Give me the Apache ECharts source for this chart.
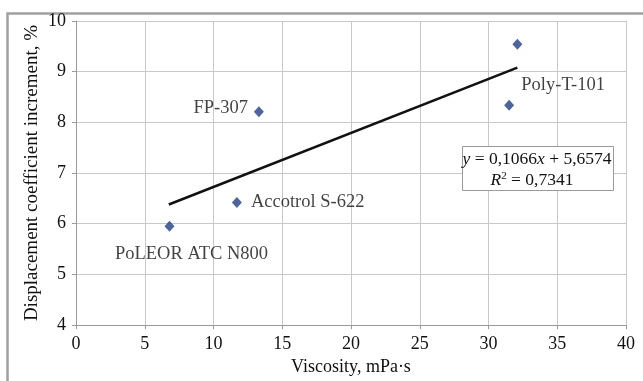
<!DOCTYPE html>
<html>
<head>
<meta charset="utf-8">
<script src="https://cdn.jsdelivr.net/npm/echarts@6/dist/echarts.min.js"></script>
<style>
  html, body { margin: 0; padding: 0; background: #fff; }
  #main { width: 643px; height: 381px; }
</style>
</head>
<body>
<div id="main"></div>
<script>
// point data
const names = ['PoLEOR ATC N800', 'Accotrol S-622', 'FP-307', 'Poly-T-101', '']
const viscosity = [6.8, 11.7, 13.3, 31.5, 32.1]
const increment = [5.95, 6.42, 8.21, 8.34, 9.54]
// trend line ends
const trendX = [6.75, 32.1]
const trendY = [6.38, 9.08]
const xTicks = [0, 5, 10, 15, 20, 25, 30, 35, 40]
const yTicks = [4, 5, 6, 7, 8, 9, 10]

const font = '"Liberation Serif", "Times New Roman", serif'
const ink = '#111'

// where each label sits relative to its point
const labelSpots = [
  { position: 'bottom', distance: 10, offset: [22, 3] },
  { position: 'right', distance: 9 },
  { position: 'left', distance: 6, offset: [0, -4] },
  { position: 'top', distance: 5, offset: [54, 0] },
  { show: false }
]

const chart = echarts.init(document.getElementById('main'))

const option = {
  animation: false,
  textStyle: { fontFamily: font },
  grid: { left: 76, right: 17, top: 21, bottom: 54 },
  xAxis: {
    type: 'value',
    min: xTicks[0],
    max: xTicks[xTicks.length - 1],
    interval: 5,
    name: 'Viscosity, mPa·s',
    nameLocation: 'middle',
    nameGap: 30,
    nameTextStyle: { fontFamily: font, fontSize: 18, color: ink },
    axisLine: { lineStyle: { color: '#9a9a9a' } },
    axisTick: { show: true, length: 4, lineStyle: { color: '#9a9a9a' } },
    axisLabel: { fontFamily: font, fontSize: 18, color: ink, margin: 10 },
    splitLine: { show: true, lineStyle: { color: '#c8c8c8' } }
  },
  yAxis: {
    type: 'value',
    min: yTicks[0],
    max: yTicks[yTicks.length - 1],
    interval: 1,
    name: 'Displacement coefficient increment, %',
    nameLocation: 'middle',
    nameGap: 34,
    nameMoveOverlap: false,
    nameTextStyle: { fontFamily: font, fontSize: 19, color: ink },
    axisLine: { show: true, lineStyle: { color: '#9a9a9a' } },
    axisTick: { show: true, length: 4, lineStyle: { color: '#9a9a9a' } },
    axisLabel: { fontFamily: font, fontSize: 18, color: ink, margin: 10, padding: [5, 0, 0, 0] },
    splitLine: { show: true, lineStyle: { color: '#c8c8c8' } }
  },
  series: [
    {
      type: 'line',
      data: trendX.map((x, i) => [x, trendY[i]]),
      showSymbol: false,
      symbol: 'none',
      lineStyle: { color: '#111', width: 2.5 },
      z: 2
    },
    {
      type: 'scatter',
      symbol: 'diamond',
      symbolSize: [10, 11],
      itemStyle: { color: '#203f85' },
      z: 3,
      data: viscosity.map((x, i) => ({
        value: [x, increment[i]],
        label: Object.assign({
          show: true,
          formatter: names[i],
          fontFamily: font,
          fontSize: 18.5,
          color: ink
        }, labelSpots[i])
      }))
    }
  ],
  graphic: [
    {
      type: 'rect',
      left: 5,
      top: 11,
      shape: { width: 645, height: 380 },
      style: { fill: 'none', stroke: '#a0a0a0', lineWidth: 2.5 },
      silent: true,
      z: -1
    },
    {
      type: 'rect',
      left: 462,
      top: 146,
      shape: { width: 151, height: 44 },
      style: { fill: '#fff', stroke: '#9a9a9a', lineWidth: 1 },
      z: 10
    },
    {
      type: 'text',
      x: 537,
      y: 159,
      z: 11,
      style: {
        text: '{i|y} = 0,1066{i|x} + 5,6574',
        align: 'center',
        verticalAlign: 'middle',
        fontFamily: font,
        fontSize: 17.5,
        fill: ink,
        rich: { i: { fontStyle: 'italic', fontFamily: font, fontSize: 17.5 } }
      }
    },
    {
      type: 'text',
      x: 532,
      y: 180,
      z: 11,
      style: {
        text: '{i|R}{s|2} = 0,7341',
        align: 'center',
        verticalAlign: 'middle',
        fontFamily: font,
        fontSize: 17.5,
        fill: ink,
        rich: {
          i: { fontStyle: 'italic', fontFamily: font, fontSize: 17.5 },
          s: { fontFamily: font, fontSize: 11, verticalAlign: 'top', padding: [0, 0, 8, 0] }
        }
      }
    }
  ]
}

chart.setOption(option)
</script>
</body>
</html>
